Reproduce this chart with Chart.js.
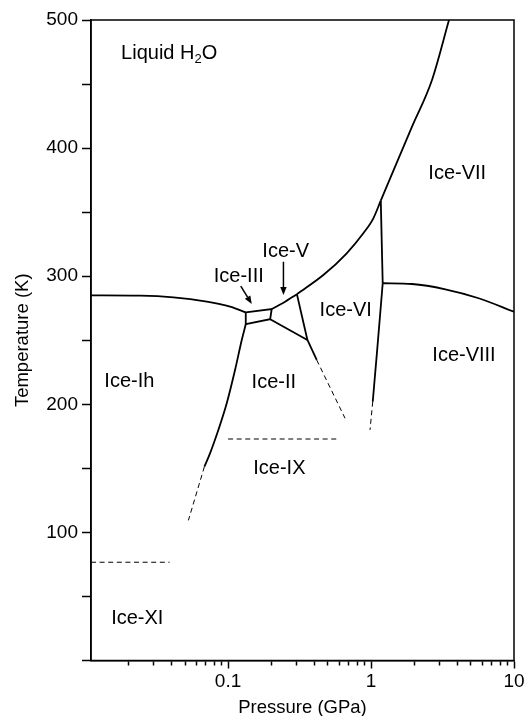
<!DOCTYPE html>
<html>
<head>
<meta charset="utf-8">
<script src="https://cdn.jsdelivr.net/npm/chart.js@4.4.1/dist/chart.umd.min.js"></script>
<style>
  html, body { margin: 0; padding: 0; background: #fff; }
</style>
</head>
<body>
<canvas id="phase" width="524" height="716"></canvas>
<script>
// phase boundaries of water, each point is [pressure GPa, temperature K]
var ihLiquid = [[0.011, 285], [0.0243, 284.8], [0.0415, 283.5], [0.071, 280.1], [0.1033, 276.2], [0.133, 271.8]];
var iiiBox = [[0.133, 271.8], [0.202, 274.4], [0.197, 266.4], [0.133, 262.5], [0.133, 271.8]];
var liquidV = [[0.202, 274.4], [0.244, 279.3], [0.303, 286]];
var liquidVI = [[0.303, 286], [0.4638, 300.9], [0.676, 317.9], [0.8834, 333.5], [1.038, 345.2], [1.17, 359]];
var liquidVII = [[1.17, 359], [1.935, 416.7], [2.67, 453.2], [3.51, 500]];
var vVI = [[0.303, 286], [0.359, 250.2]];
var iiV = [[0.197, 266.4], [0.359, 250.2]];
var iiVI = [[0.359, 250.2], [0.417, 234.6]];
var iiVIdashed = [[0.417, 234.6], [0.658, 189.1]];
var ihII = [[0.133, 262.5], [0.1247, 250.2], [0.1119, 226.8], [0.0979, 200.8], [0.0855, 179.9], [0.0748, 161.7], [0.0683, 151.3]];
var ihIIdashed = [[0.0683, 151.3], [0.0528, 109.4]];
var viVII = [[1.17, 359], [1.207, 294.5]];
var viVIII = [[1.207, 294.5], [1.10, 240.3], [1.028, 202]];
var viVIIIdashed = [[1.028, 202], [0.984, 180]];
var viiVIII = [[1.207, 294.5], [1.935, 293.9], [3.31, 289.8], [5.66, 282.8], [10, 272.3]];
var ixLine = [[0.1, 172.9], [0.6, 172.9]];
var xiLine = [[0.011, 76.7], [0.039, 76.7]];

// region names and where they sit
var phaseNames = ['Ice-VII', 'Ice-VI', 'Ice-V', 'Ice-III', 'Ice-Ih', 'Ice-II', 'Ice-IX', 'Ice-VIII', 'Ice-XI'];
var phaseAt = [[4.01, 379.8], [0.665, 273], [0.253, 319.1], [0.1188, 299.5], [0.0204, 218], [0.209, 217], [0.2285, 150], [4.47, 238.3], [0.02317, 32.8]];
var liquidAt = [0.01786, 474.2];
var arrows = [[[0.244, 311.3], [0.244, 285.3]], [[0.1227, 292.3], [0.1465, 278.3]]];

var xTickLabels = ['0.1', '1', '10'];
var yTickLabels = ['100', '200', '300', '400', '500'];

var FONT = "'Liberation Sans', Arial, sans-serif";
Chart.defaults.font.family = FONT;
Chart.defaults.color = '#000';

function pts(arr) {
  return arr.map(function (p) { return { x: p[0], y: p[1] }; });
}
function solid(arr, curved) {
  return { data: pts(arr), showLine: true, borderColor: '#000', borderWidth: 1.8,
           pointRadius: 0, fill: false,
           cubicInterpolationMode: curved ? 'monotone' : 'default', tension: 0 };
}
function dashed(arr) {
  return { data: pts(arr), showLine: true, borderColor: '#000', borderWidth: 1,
           borderDash: [5, 3.6], pointRadius: 0, fill: false };
}

var labelPlugin = {
  id: 'labels',
  afterDatasetsDraw: function (chart) {
    var ctx = chart.ctx, xs = chart.scales.x, ys = chart.scales.y;
    var a = chart.chartArea;
    ctx.save();
    ctx.strokeStyle = '#000';
    ctx.lineWidth = 1.5;
    ctx.strokeRect(a.left, a.top, a.right - a.left, a.bottom - a.top);

    ctx.fillStyle = '#000';
    ctx.font = '20px ' + FONT;
    ctx.textBaseline = 'middle';
    ctx.textAlign = 'center';
    phaseNames.forEach(function (name, i) {
      ctx.fillText(name, xs.getPixelForValue(phaseAt[i][0]), ys.getPixelForValue(phaseAt[i][1]));
    });

    // Liquid H2O with subscript
    var lx = xs.getPixelForValue(liquidAt[0]), ly = ys.getPixelForValue(liquidAt[1]);
    ctx.textAlign = 'left';
    ctx.fillText('Liquid H', lx, ly);
    lx += ctx.measureText('Liquid H').width;
    ctx.font = '13px ' + FONT;
    ctx.fillText('2', lx, ly + 6);
    lx += ctx.measureText('2').width;
    ctx.font = '20px ' + FONT;
    ctx.fillText('O', lx, ly);

    // arrows
    ctx.lineWidth = 1.5;
    arrows.forEach(function (ar) {
      var x1 = xs.getPixelForValue(ar[0][0]), y1 = ys.getPixelForValue(ar[0][1]);
      var x2 = xs.getPixelForValue(ar[1][0]), y2 = ys.getPixelForValue(ar[1][1]);
      var ang = Math.atan2(y2 - y1, x2 - x1), hl = 8, hw = 3.2;
      var bx = x2 - hl * Math.cos(ang), by = y2 - hl * Math.sin(ang);
      ctx.beginPath();
      ctx.moveTo(x1, y1);
      ctx.lineTo(bx, by);
      ctx.stroke();
      ctx.beginPath();
      ctx.moveTo(x2, y2);
      ctx.lineTo(bx + hw * Math.sin(ang), by - hw * Math.cos(ang));
      ctx.lineTo(bx - hw * Math.sin(ang), by + hw * Math.cos(ang));
      ctx.closePath();
      ctx.fill();
    });
    ctx.restore();
  }
};

new Chart(document.getElementById('phase'), {
  type: 'scatter',
  data: {
    datasets: [
      solid(ihLiquid, true), solid(iiiBox), solid(liquidV, true), solid(liquidVI, true),
      solid(liquidVII, true), solid(vVI), solid(iiV), solid(iiVI), dashed(iiVIdashed),
      solid(ihII, true), dashed(ihIIdashed), solid(viVII), solid(viVIII, true),
      dashed(viVIIIdashed), solid(viiVIII, true), dashed(ixLine), dashed(xiLine)
    ]
  },
  options: {
    responsive: false,
    animation: false,
    layout: { padding: { top: 20, right: 10, left: 0, bottom: 0 } },
    plugins: { legend: { display: false }, tooltip: { enabled: false } },
    scales: {
      x: {
        type: 'logarithmic',
        min: 0.011,
        max: 10,
        afterBuildTicks: function (scale) {
          var t = [];
          [0.01, 0.1, 1].forEach(function (d) {
            for (var k = 1; k <= 9; k++) {
              var v = +(k * d).toPrecision(2);
              if (v >= scale.min && v <= scale.max) t.push({ value: v, major: k === 1 });
            }
          });
          t.push({ value: 10, major: true });
          scale.ticks = t;
        },
        afterFit: function (scale) {
          scale.height = 55.5;
          scale.paddingLeft = 0; scale.paddingRight = 0;
          scale.paddingTop = 0; scale.paddingBottom = 0;
        },
        ticks: {
          autoSkip: false,
          maxRotation: 0,
          padding: 4,
          font: { size: 19, lineHeight: 1 },
          callback: function (value, i, ticks) {
            if (!ticks[i].major) return '';
            return xTickLabels[Math.round(Math.log10(value)) + 1];
          }
        },
        grid: {
          drawOnChartArea: false,
          tickLength: 8,
          tickWidth: 1.5,
          color: '#000',
          tickBorderDash: function (c) {
            return c.tick && c.tick.major ? [] : [4, 30];
          }
        },
        border: { display: true, color: '#000', width: 1.5 },
        title: {
          display: true,
          text: 'Pressure (GPa)',
          font: { size: 18.5, lineHeight: 1 },
          padding: { top: 0, bottom: -1.5 }
        }
      },
      y: {
        type: 'linear',
        min: 0,
        max: 500,
        afterFit: function (scale) {
          scale.width = 91;
          scale.paddingLeft = 0; scale.paddingRight = 0;
          scale.paddingTop = 0; scale.paddingBottom = 0;
        },
        ticks: {
          stepSize: 50,
          padding: 4,
          font: { size: 19, lineHeight: 1 },
          callback: function (value) {
            var s = String(value);
            return yTickLabels.indexOf(s) >= 0 ? s : '';
          }
        },
        grid: {
          drawOnChartArea: false,
          tickLength: 9,
          tickWidth: 1.5,
          color: '#000'
        },
        border: { display: true, color: '#000', width: 1.5 },
        title: {
          display: true,
          text: 'Temperature (K)',
          font: { size: 18.5, lineHeight: 1 },
          padding: { top: 14, bottom: 0 }
        }
      }
    }
  },
  plugins: [labelPlugin]
});
</script>
</body>
</html>
